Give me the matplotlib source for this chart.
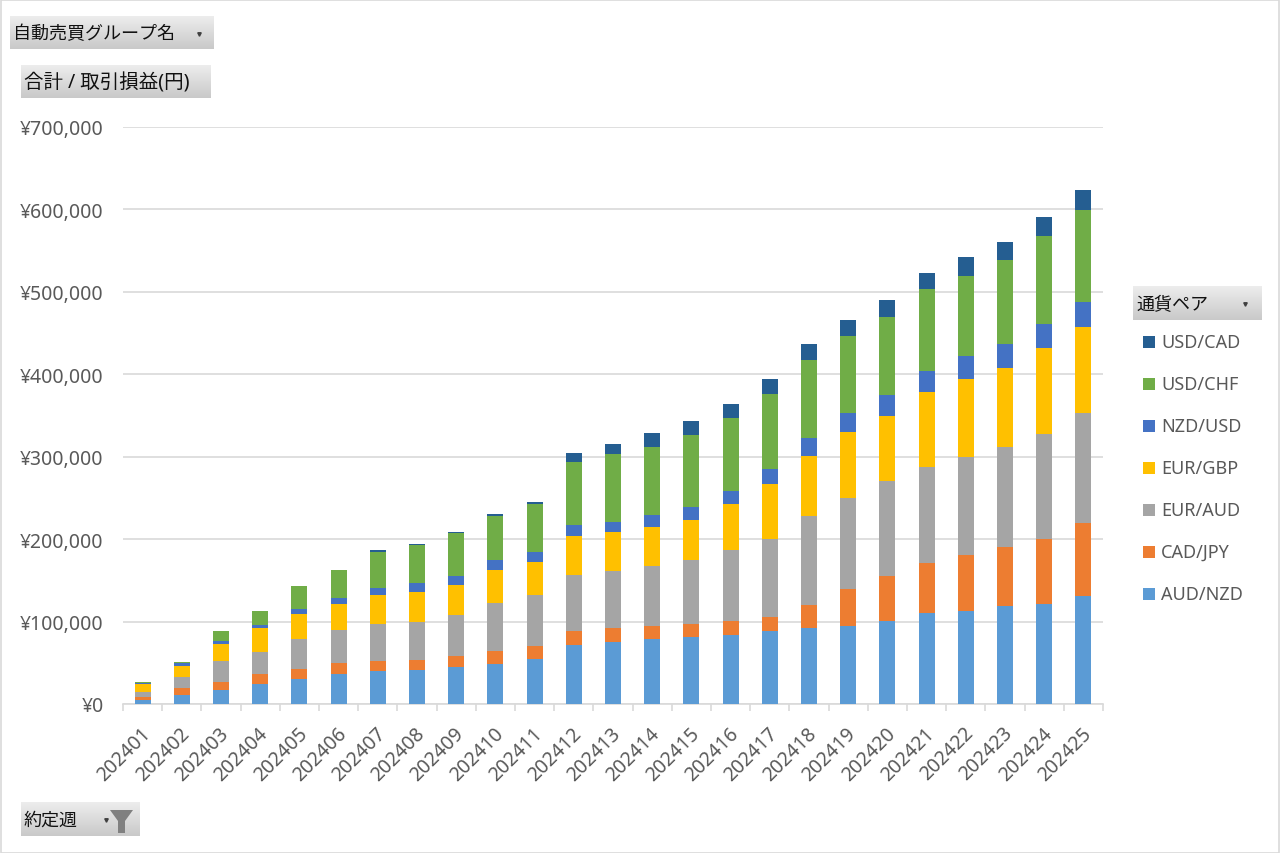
import numpy as np
import matplotlib
matplotlib.use("Agg")
import matplotlib.pyplot as plt
from matplotlib.patches import Rectangle, Polygon
from matplotlib.colors import LinearSegmentedColormap
from matplotlib.transforms import ScaledTranslation

plt.rcParams['font.family'] = ['Noto Sans', 'Noto Sans CJK JP', 'DejaVu Sans']

# weekly buckets (x axis)
weeks = ['2024%02d' % i for i in range(1, 26)]

# cumulative profit per currency pair (yen)
aud_nzd = [5200, 10900, 17000, 24600, 30300, 36300, 40000, 41200, 44400, 48400,
           54100, 71800, 75400, 78300, 81100, 83900, 88900, 91800, 95100, 100800,
           109800, 112700, 118900, 121700, 131100]
cad_jpy = [3300, 8800, 9700, 11300, 11700, 12900, 12500, 12500, 13300, 16100,
           16100, 16200, 16600, 16500, 15400, 16200, 16400, 28300, 44200, 54500,
           61100, 67600, 71300, 77900, 88200]
eur_aud = [5700, 12600, 25400, 27400, 36700, 40000, 44400, 45600, 50400, 58600,
           62100, 69000, 69400, 72600, 78700, 86300, 95100, 107400, 111100, 114800,
           116800, 118900, 122100, 128300, 134000]
eur_gbp = [9700, 14100, 20600, 28300, 30700, 31900, 35900, 36300, 36300, 39100,
           39600, 46400, 46800, 47200, 47900, 55700, 66400, 72900, 79500, 79100,
           91400, 95500, 95900, 103700, 104500]
nzd_usd = [2000, 3200, 3200, 4000, 5300, 6900, 7700, 10900, 10500, 12500,
           12100, 13300, 12900, 14500, 16200, 16600, 18000, 22600, 22600, 25400,
           25400, 27000, 28700, 29900, 29900]
usd_chf = [500, 1600, 12900, 17800, 28200, 34300, 44400, 46000, 52100, 52900,
           58100, 76300, 82300, 83200, 87500, 87900, 91800, 93800, 93400, 94700,
           98400, 97600, 101600, 106100, 111900]
usd_cad = [0, 0, 0, 0, 800, 800, 2000, 1600, 2000, 2800,
           3200, 10900, 12500, 16900, 16100, 17400, 17700, 19700, 20100, 20500,
           19600, 22500, 22200, 23400, 23800]

pair_names = ['AUD/NZD', 'CAD/JPY', 'EUR/AUD', 'EUR/GBP', 'NZD/USD', 'USD/CHF', 'USD/CAD']
pair_values = [aud_nzd, cad_jpy, eur_aud, eur_gbp, nzd_usd, usd_chf, usd_cad]
pair_colors = ['#5B9BD5', '#ED7D31', '#A5A5A5', '#FFC000', '#4472C4', '#70AD47', '#255E91']

W, H = 1280, 854


def fx(x):
    return x / W


def fy(y):
    return 1 - y / H


fig = plt.figure(figsize=(W / 100, H / 100), dpi=100)
fig.patch.set_facecolor('white')
fig.patches.append(Rectangle((0.5 / W, 0.5 / H), 1 - 1.5 / W, 1 - 1.5 / H, transform=fig.transFigure,
                             fill=False, edgecolor='#D9D9D9', linewidth=1.2))

ax = fig.add_axes([fx(123), fy(705), (1103 - 123) / W, (705 - 128) / H])

x = np.arange(len(weeks))
bottom = np.zeros(len(weeks))
for name, vals, col in zip(pair_names, pair_values, pair_colors):
    vals = np.array(vals, dtype=float)
    ax.bar(x, vals, 0.41, bottom=bottom, color=col, label=name, zorder=3)
    bottom += vals

ax.set_xlim(-0.5, len(weeks) - 0.5)
ax.set_ylim(0, 700000)
ax.set_yticks(np.arange(0, 700001, 100000))
ax.set_yticklabels(['¥{:,}'.format(v) for v in range(0, 700001, 100000)])
ax.grid(axis='y', color='#D9D9D9', linewidth=1.2, zorder=0)
for s in ['top', 'right', 'left']:
    ax.spines[s].set_visible(False)
ax.spines['bottom'].set_color('#D9D9D9')
ax.spines['bottom'].set_linewidth(1.2)
ax.tick_params(axis='y', length=0, pad=14, labelsize=14, labelcolor='#595959')

ax.set_xticks(x)
ax.set_xticklabels(weeks, rotation=45, ha='right', va='center', rotation_mode='anchor')
ax.tick_params(axis='x', which='major', length=0, pad=0, labelsize=14, labelcolor='#595959')
ax.set_xticks(np.arange(-0.5, len(weeks), 1), minor=True)
ax.tick_params(axis='x', which='minor', length=5, color='#D9D9D9', width=1.2)

# shift rotated labels so their ends sit just right of and below each bar
shift = ScaledTranslation(5 / 100, -26 / 100, fig.dpi_scale_trans)
for lbl in ax.get_xticklabels():
    lbl.set_transform(lbl.get_transform() + shift)

grad_cmap = LinearSegmentedColormap.from_list('btn', ['#EDEDED', '#C9C9C9'])


def draw_button(x0, y0, x1, y1, label, arrow_x, funnel=False, size=13):
    bax = fig.add_axes([fx(x0), fy(y1), (x1 - x0) / W, (y1 - y0) / H])
    bax.imshow(np.linspace(0, 1, 50).reshape(-1, 1), aspect='auto', cmap=grad_cmap,
               extent=[x0, x1, y1, y0])
    bax.set_xlim(x0, x1)
    bax.set_ylim(y1, y0)
    bax.axis('off')
    bax.text(x0 + 3, (y0 + y1) / 2 + 1, label, fontsize=size, color='#111111', va='center', ha='left')
    bax.plot([arrow_x], [(y0 + y1) / 2 + 1], marker='v', markersize=2.5, color='#404040')
    if funnel:
        pts = [(110, 811), (133, 811), (125, 822), (125, 834), (118, 834), (118, 822)]
        bax.add_patch(Polygon(pts, closed=True, facecolor='#808080', edgecolor='none'))


draw_button(10, 17, 214, 50, '自動売買グループ名', 199)
draw_button(21, 66, 211, 99, '合計 / 取引損益(円)', -100, size=14)
draw_button(21, 803, 140, 837, '約定週', 106, funnel=True)
draw_button(1133, 287, 1262, 321, '通貨ペア', 1245)

# legend, top entry = last stacked series
for i, (name, col) in enumerate(zip(pair_names[::-1], pair_colors[::-1])):
    cy = 343 + i * 42
    fig.patches.append(Rectangle((fx(1143), fy(cy + 6)), 12 / W, 12 / H,
                                 transform=fig.transFigure, facecolor=col, edgecolor='none'))
    fig.text(fx(1161), fy(cy), name, fontsize=13, color='#595959', va='center', ha='left')

fig.savefig('out.png', dpi=100)
